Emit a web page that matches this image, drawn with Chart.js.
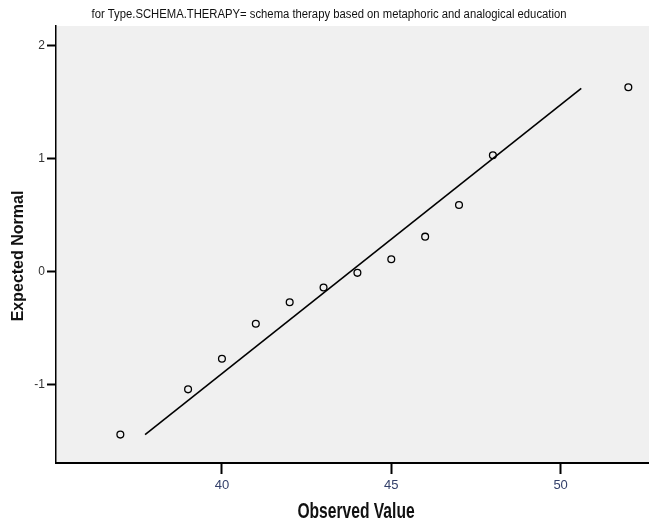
<!DOCTYPE html>
<html>
<head>
<meta charset="utf-8">
<script src="https://cdn.jsdelivr.net/npm/chart.js@4/dist/chart.umd.min.js"></script>
<style>
    html, body { margin: 0; padding: 0; background: #ffffff; }
    #qqChart { display: block; }
</style>
</head>
<body>
<canvas id="qqChart" width="649" height="527"></canvas>
<script>
// --- data ---
const observedValues = [37, 39, 40, 41, 42, 43, 44, 45, 46, 47, 48, 52];
const expectedNormal = [-1.44, -1.04, -0.77, -0.46, -0.27, -0.14, -0.01, 0.11, 0.31, 0.59, 1.03, 1.63];

// reference line (start / end)
const lineX = [37.73, 50.61];
const lineY = [-1.44, 1.62];

// ticks shown on the axes
const xTicks = [40, 45, 50];
const yTicks = [-1, 0, 1, 2];

const titleText = 'for Type.SCHEMA.THERAPY= schema therapy based on metaphoric and analogical education';
const xTitle = 'Observed Value';
const yTitle = 'Expected Normal';
const fontFamily = "'Liberation Sans', Arial, sans-serif";

// fill only the plot area with grey, like SPSS
const plotBackground = {
    id: 'plotBackground',
    beforeDraw(chart) {
        const { ctx, chartArea } = chart;
        ctx.save();
        ctx.fillStyle = '#f0f0f0';
        ctx.fillRect(chartArea.left, chartArea.top, chartArea.right - chartArea.left, chartArea.bottom - chartArea.top);
        ctx.restore();
    }
};

// SPSS export uses a condensed font -> draw titles squeezed horizontally
function drawNarrow(ctx, text, x, y, font, squeeze, rotate) {
    ctx.save();
    ctx.font = font;
    ctx.fillStyle = '#111111';
    ctx.textAlign = 'center';
    ctx.textBaseline = 'alphabetic';
    ctx.translate(x, y);
    if (rotate) ctx.rotate(-Math.PI / 2);
    ctx.scale(squeeze, 1);
    ctx.fillText(text, 0, 0);
    ctx.restore();
}

const narrowTitles = {
    id: 'narrowTitles',
    afterDraw(chart) {
        const { ctx } = chart;
        drawNarrow(ctx, titleText, 329, 18, '12px ' + fontFamily, 0.94, false);
        drawNarrow(ctx, xTitle, 356, 518, 'bold 22px ' + fontFamily, 0.71, false);
        drawNarrow(ctx, yTitle, 22.5, 256, 'bold 16px ' + fontFamily, 1, true);
    }
};

document.addEventListener('DOMContentLoaded', () => {
    const ctx = document.getElementById('qqChart');

    new Chart(ctx, {
        type: 'scatter',
        data: {
            datasets: [
                {
                    label: 'Observed',
                    data: observedValues.map((v, i) => ({ x: v, y: expectedNormal[i] })),
                    pointStyle: 'circle',
                    pointRadius: 3.4,
                    pointBorderWidth: 1.3,
                    borderColor: '#000000',
                    backgroundColor: 'rgba(0,0,0,0)',
                    order: 1
                },
                {
                    label: 'Line',
                    type: 'line',
                    data: lineX.map((v, i) => ({ x: v, y: lineY[i] })),
                    borderColor: '#000000',
                    borderWidth: 1.6,
                    pointRadius: 0,
                    fill: false,
                    order: 2
                }
            ]
        },
        options: {
            responsive: false,
            animation: false,
            layout: { padding: { top: 26 }, autoPadding: false },
            plugins: {
                legend: { display: false },
                tooltip: { enabled: false },
                title: { display: false }
            },
            scales: {
                x: {
                    type: 'linear',
                    min: 35.1,
                    max: 52.61,
                    afterFit: (scale) => {
                        scale.height = 64;
                        scale.paddingLeft = 0;
                        scale.paddingRight = 0;
                    },
                    afterBuildTicks: (scale) => { scale.ticks = xTicks.map(v => ({ value: v })); },
                    border: { display: true, color: '#000000', width: 2 },
                    grid: { drawOnChartArea: false, drawTicks: true, tickLength: 11, tickWidth: 2, tickColor: '#000000' },
                    ticks: {
                        color: '#34406a',
                        padding: 4,
                        maxRotation: 0,
                        font: { family: fontFamily, size: 13 }
                    },
                    title: { display: false }
                },
                y: {
                    type: 'linear',
                    min: -1.691,
                    max: 2.172,
                    afterFit: (scale) => { scale.width = 56; },
                    afterBuildTicks: (scale) => { scale.ticks = yTicks.map(v => ({ value: v })); },
                    border: { display: true, color: '#000000', width: 1.5 },
                    grid: { drawOnChartArea: false, drawTicks: true, tickLength: 9, tickWidth: 2, tickColor: '#000000' },
                    ticks: {
                        color: '#333333',
                        padding: 2,
                        font: { family: fontFamily, size: 12 }
                    },
                    title: { display: false }
                }
            }
        },
        plugins: [plotBackground, narrowTitles]
    });
});
</script>
</body>
</html>
